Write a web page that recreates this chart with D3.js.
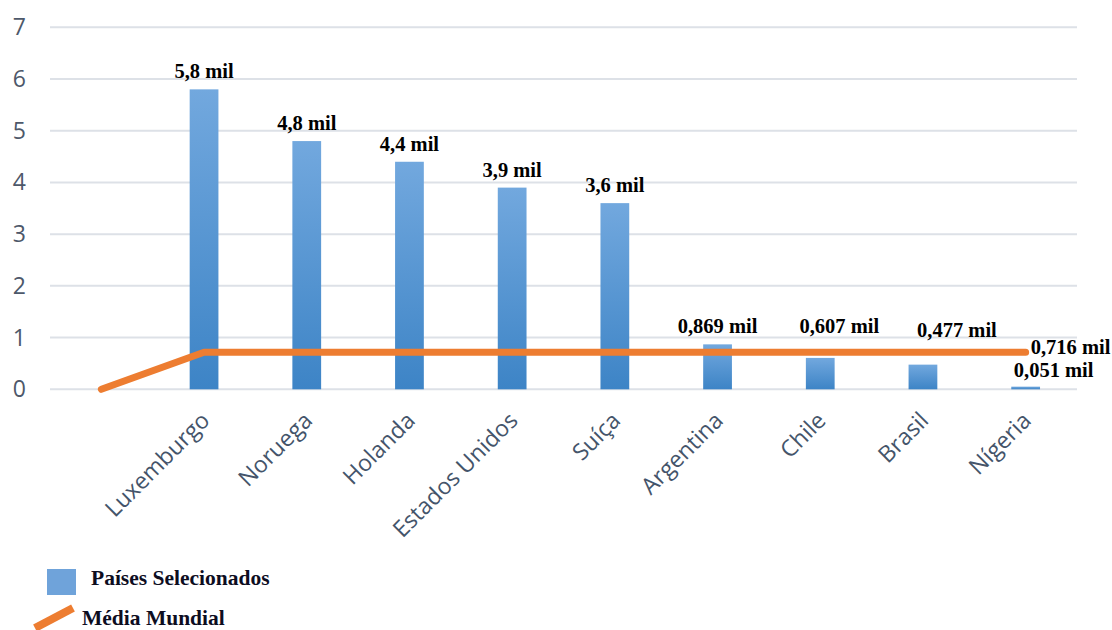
<!DOCTYPE html>
<html><head><meta charset="utf-8">
<script src="https://cdn.jsdelivr.net/npm/d3@7"></script>
<style>html,body{margin:0;padding:0;background:#fff;}svg{display:block;}</style>
</head><body>
<svg id="c" width="1112" height="630"></svg>
<script>
const categories = ["Luxemburgo","Noruega","Holanda","Estados Unidos","Suíça","Argentina","Chile","Brasil","Nígeria"];
const barValues = [5.8, 4.8, 4.4, 3.9, 3.6, 0.869, 0.607, 0.477, 0.051];
const barLabels = ["5,8 mil","4,8 mil","4,4 mil","3,9 mil","3,6 mil","0,869 mil","0,607 mil","0,477 mil","0,051 mil"];
const lineCategories = ["", ...categories];
const lineValues = [0, 0.716, 0.716, 0.716, 0.716, 0.716, 0.716, 0.716, 0.716, 0.716];
const lineEndLabel = "0,716 mil";
const yTicks = [0,1,2,3,4,5,6,7];
const legendNames = ["Países Selecionados","Média Mundial"];

const svg = d3.select("#c");
const defs = svg.append("defs");
const g = defs.append("linearGradient").attr("id","barGrad").attr("x1",0).attr("y1",0).attr("x2",0).attr("y2",1);
g.append("stop").attr("offset","0%").attr("stop-color","#72a8de");
g.append("stop").attr("offset","100%").attr("stop-color","#3d84c6");

const x = d3.scaleBand().domain(lineCategories).range([50,1077]).paddingInner(0.72).paddingOuter(0.36);
const y = d3.scaleLinear().domain([0,7]).range([389.3,27.3]);
const cx = c => x(c) + x.bandwidth()/2;

// gridlines
svg.append("g").selectAll("line").data(yTicks).join("line")
  .attr("x1",50).attr("x2",1077).attr("y1",d=>y(d)).attr("y2",d=>y(d))
  .attr("stroke","#dde1e7").attr("stroke-width",2);

// y labels
svg.append("g").selectAll("text").data(yTicks).join("text")
  .attr("x",26).attr("y",d=>y(d)+8).attr("text-anchor","end")
  .attr("font-family","'Open Sans', sans-serif").attr("font-size",23).attr("fill","#4d586a")
  .text(d=>d);

// bars
svg.append("g").selectAll("rect").data(barValues).join("rect")
  .attr("x",(d,i)=>x(categories[i])).attr("width",x.bandwidth())
  .attr("y",d=>y(d)).attr("height",d=>y(0)-y(d))
  .attr("fill","url(#barGrad)");

// line
const line = d3.line().x((d,i)=>cx(lineCategories[i])).y(d=>y(d));
svg.append("path").datum(lineValues).attr("d",line)
  .attr("fill","none").attr("stroke","#ed7d31").attr("stroke-width",7)
  .attr("stroke-linecap","round").attr("stroke-linejoin","round");

// bar labels
const labelAdjust = {6:{dx:19,y:333},7:{dx:34,y:337},8:{dx:28,y:377}};
svg.append("g").selectAll("text").data(barValues).join("text")
  .attr("x",(d,i)=>cx(categories[i]) + (labelAdjust[i]?labelAdjust[i].dx:0))
  .attr("y",(d,i)=>labelAdjust[i]?labelAdjust[i].y:y(d)-11)
  .attr("text-anchor","middle")
  .attr("font-family","'Liberation Serif', 'Times New Roman', serif").attr("font-weight","bold")
  .attr("font-size",20.5).attr("fill","#000")
  .text((d,i)=>barLabels[i]);

// line end label
const lastIdx = lineValues.length-1;
svg.append("text").attr("x",cx(lineCategories[lastIdx])+5).attr("y",y(lineValues[lastIdx])+2)
  .attr("font-family","'Liberation Serif', 'Times New Roman', serif").attr("font-weight","bold")
  .attr("font-size",20.5).attr("fill","#000").text(lineEndLabel);

// category labels
svg.append("g").selectAll("text").data(categories).join("text")
  .attr("transform",d=>`translate(${cx(d)+7},${422}) rotate(-45)`)
  .attr("text-anchor","end")
  .attr("font-family","'Open Sans', sans-serif").attr("font-size",23).attr("fill","#44546a")
  .text(d=>d);

// legend
svg.append("rect").attr("x",47).attr("y",569).attr("width",29).attr("height",26).attr("fill","#6fa3da");
svg.append("text").attr("x",91).attr("y",585)
  .attr("font-family","'Liberation Serif', 'Times New Roman', serif").attr("font-weight","bold")
  .attr("font-size",21.5).attr("fill","#0d0d1f").text(legendNames[0]);
svg.append("line").attr("x1",35).attr("y1",628).attr("x2",73).attr("y2",608)
  .attr("stroke","#ed7d31").attr("stroke-width",8);
svg.append("text").attr("x",82).attr("y",625)
  .attr("font-family","'Liberation Serif', 'Times New Roman', serif").attr("font-weight","bold")
  .attr("font-size",21.5).attr("fill","#0d0d1f").text(legendNames[1]);
</script>
</body></html>
